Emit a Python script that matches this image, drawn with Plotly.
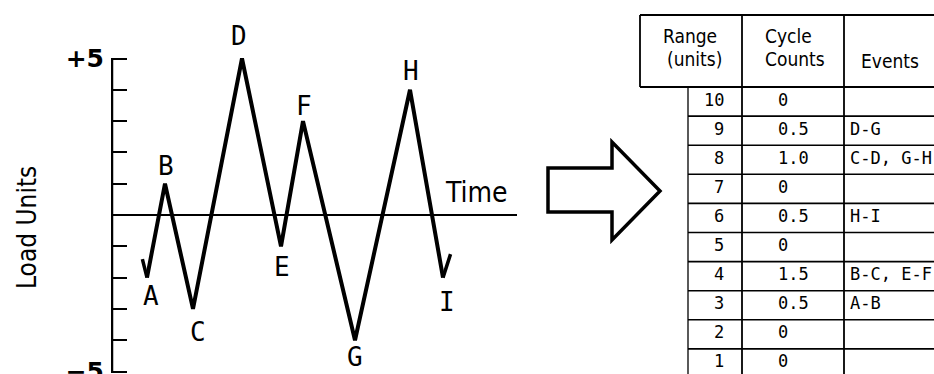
import plotly.graph_objects as go

# Load history: turning points of the load sequence
points = ["A", "B", "C", "D", "E", "F", "G", "H", "I"]
times = [3.5, 5.3, 8.1, 13.0, 16.9, 19.1, 24.3, 29.8, 33.1]
loads = [-2, 1, -3, 5, -1, 3, -4, 4, -2]

# Rainflow cycle count table
ranges = [10, 9, 8, 7, 6, 5, 4, 3, 2, 1]
cycle_counts = ["0", "0.5", "1.0", "0", "0.5", "0", "1.5", "0.5", "0", "0"]
events = ["", "D-G", "C-D, G-H", "", "H-I", "", "B-C, E-F", "A-B", "", ""]

y_ticks = [-5, -4, -3, -2, -1, 0, 1, 2, 3, 4, 5]
y_ticktext = ["\u22125", "", "", "", "", "", "", "", "", "", "+5"]

# ---- layout geometry (pixels) ----
W, H = 934, 374
FONT = "DejaVu Sans Condensed, DejaVu Sans, sans-serif"
MONO = "DejaVu Sans Mono, monospace"
INK = "#000000"

# left chart
AX_LEFT, AX_RIGHT = 111, 517
T_PER_PX = 0.1
Y_PX_TOP5, Y_PX_UNIT = 58.5, 31.3

# label offsets (xshift, yshift) for each turning point
label_shift = [(4, -18), (1, 18), (5, -23), (-3, 23), (1, -21),
               (1, 15), (0, -17), (1, 19), (4, -24)]

# table
T_TOP, T_HEAD_BOTTOM, ROW_H = 15, 87, 29.1
X_HEAD_LEFT, X_ROWS_LEFT, X_COL2, X_COL3 = 640, 688, 742, 844


def paper(x, y):
    return x / W, 1 - y / H


def row_v(py):
    """pixel row -> table axis value"""
    return ranges[0] + 0.5 - (py - T_HEAD_BOTTOM) / ROW_H


fig = go.Figure()

# load history line
fig.add_trace(go.Scatter(
    x=times, y=loads, mode="lines",
    line=dict(color=INK, width=4), hoverinfo="skip",
    xaxis="x", yaxis="y", showlegend=False,
))

# table row separators drawn on the table axes
row_x, row_y = [], []
for r in ranges:
    row_x += [X_ROWS_LEFT, W + 5, None]
    row_y += [r - 0.5, r - 0.5, None]
fig.add_trace(go.Scatter(
    x=row_x, y=row_y, mode="lines",
    line=dict(color=INK, width=1.6), hoverinfo="skip",
    xaxis="x2", yaxis="y2", showlegend=False,
))

y_top = 5 + Y_PX_TOP5 / Y_PX_UNIT
y_bot = -5 - (H - (Y_PX_TOP5 + 10 * Y_PX_UNIT)) / Y_PX_UNIT

fig.update_layout(
    width=W, height=H,
    margin=dict(l=0, r=0, t=0, b=0, autoexpand=False),
    paper_bgcolor="white", plot_bgcolor="rgba(0,0,0,0)",
    xaxis=dict(domain=[AX_LEFT / W, AX_RIGHT / W],
               range=[-1 * T_PER_PX, (AX_RIGHT - AX_LEFT - 1) * T_PER_PX],
               visible=False, anchor="y", automargin=False),
    yaxis=dict(domain=[0, 1], range=[y_bot, y_top], anchor="x",
               automargin=False,
               tickmode="array", tickvals=y_ticks, ticktext=y_ticktext,
               ticks="inside", ticklen=16, tickwidth=2, tickcolor=INK,
               tickfont=dict(family="DejaVu Sans, sans-serif", size=25,
                             color=INK, weight="bold"),
               ticklabelstandoff=6, ticklabeloverflow="allow",
               showgrid=False, showline=False,
               zeroline=True, zerolinecolor=INK, zerolinewidth=2),
    xaxis2=dict(domain=[0, 1], range=[0, W], visible=False, anchor="y2",
                automargin=False),
    yaxis2=dict(domain=[0, 1], range=[row_v(H), row_v(0)], visible=False,
                anchor="x2", automargin=False),
)

shapes = []
# vertical load axis from -5 to +5
shapes.append(dict(type="line", xref="x", yref="y", x0=0, x1=0, y0=-5, y1=5,
                   line=dict(color=INK, width=2.5)))

# table frame
v_top = row_v(T_TOP)
v_head = row_v(T_HEAD_BOTTOM)
v_bottom = row_v(H + 10)
tline = dict(color=INK, width=1.8)
shapes += [
    dict(type="line", xref="x2", yref="y2", x0=X_HEAD_LEFT, x1=W + 5,
         y0=v_top, y1=v_top, line=tline),
    dict(type="line", xref="x2", yref="y2", x0=X_HEAD_LEFT, x1=W + 5,
         y0=v_head, y1=v_head, line=tline),
    dict(type="line", xref="x2", yref="y2", x0=X_HEAD_LEFT, x1=X_HEAD_LEFT,
         y0=v_top, y1=v_head, line=tline),
    dict(type="line", xref="x2", yref="y2", x0=X_ROWS_LEFT, x1=X_ROWS_LEFT,
         y0=v_head, y1=v_bottom, line=dict(color=INK, width=1.3)),
    dict(type="line", xref="x2", yref="y2", x0=X_COL2, x1=X_COL2,
         y0=v_top, y1=v_bottom, line=tline),
    dict(type="line", xref="x2", yref="y2", x0=X_COL3, x1=X_COL3,
         y0=v_top, y1=v_bottom, line=tline),
]

# block arrow between chart and table
arrow_px = [(548, 168), (612, 168), (612, 142), (660, 191),
            (612, 240), (612, 212), (548, 212)]
path = "M " + " L ".join("{:.5f},{:.5f}".format(*paper(x, y)) for x, y in arrow_px) + " Z"
shapes.append(dict(type="path", xref="paper", yref="paper", path=path,
                   fillcolor="white", line=dict(color=INK, width=3.5)))

annotations = []
# turning point letters
for name, t, v, (dx, dy) in zip(points, times, loads, label_shift):
    annotations.append(dict(x=t, y=v, xref="x", yref="y", text=name,
                            showarrow=False, xshift=dx, yshift=dy,
                            font=dict(family=MONO, size=26, color=INK)))

# continuation ticks at the start and end of the history
for t, v, ax, ay in [(times[0], loads[0], -5, -20), (times[-1], loads[-1], 8, -25)]:
    annotations.append(dict(x=t, y=v, xref="x", yref="y", text="",
                            showarrow=True, arrowhead=0, arrowwidth=3.5,
                            arrowcolor=INK, ax=ax, ay=ay, standoff=0,
                            startstandoff=0))

annotations.append(dict(x=(476 - AX_LEFT) * T_PER_PX - 0.1, y=0.72, xref="x", yref="y",
                        text="Time", showarrow=False,
                        font=dict(family=FONT, size=28, color=INK)))
lx, ly = paper(27, 228)
annotations.append(dict(x=lx, y=ly, xref="paper", yref="paper",
                        xanchor="center", yanchor="middle",
                        text="Load Units", textangle=-90, showarrow=False,
                        font=dict(family=FONT, size=26, color=INK)))

# table header
hfont = dict(family=FONT, size=19, color=INK)
for text, x, y in [("Range", 690, 36), ("(units)", 694, 59),
                   ("Cycle", 788, 36), ("Counts", 795, 59),
                   ("Events", 890, 61)]:
    annotations.append(dict(x=x, y=row_v(y), xref="x2", yref="y2", text=text,
                            showarrow=False, font=hfont))

# table body
bfont = dict(family=MONO, size=17, color=INK)
for r, c, e in zip(ranges, cycle_counts, events):
    annotations.append(dict(x=726, y=r, xref="x2", yref="y2", text=str(r),
                            xanchor="right", yshift=2, showarrow=False, font=bfont))
    annotations.append(dict(x=776, y=r, xref="x2", yref="y2", text=c,
                            xanchor="left", yshift=2, showarrow=False, font=bfont))
    if e:
        annotations.append(dict(x=848, y=r, xref="x2", yref="y2", text=e,
                                xanchor="left", yshift=2, showarrow=False, font=bfont))

fig.update_layout(shapes=shapes, annotations=annotations)

fig.write_html("out.html")
